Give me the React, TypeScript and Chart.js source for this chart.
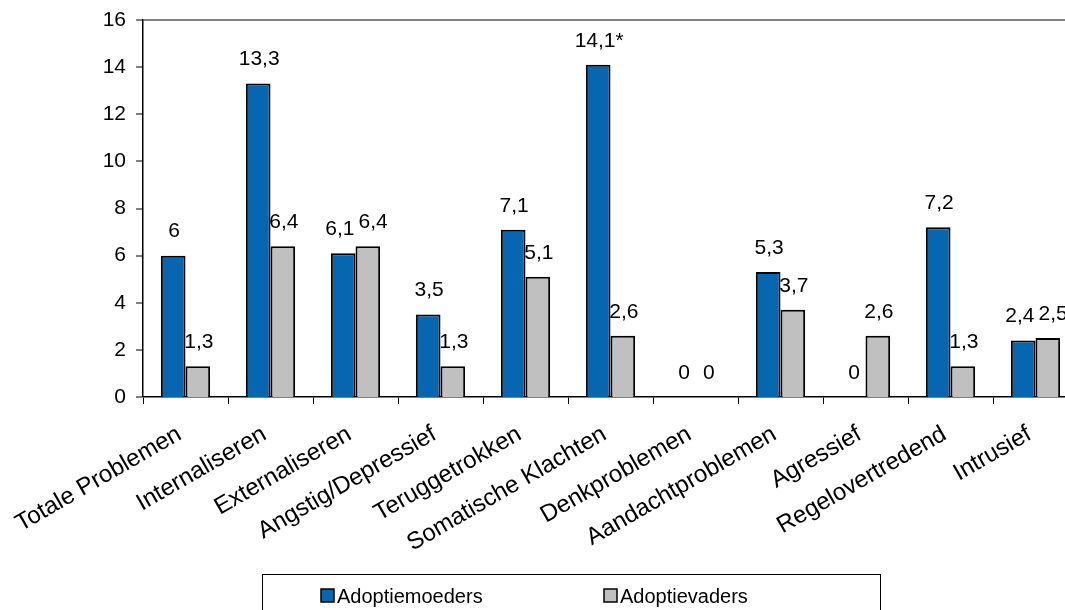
import React, { useEffect, useRef } from "react";
import { Chart, registerables } from "chart.js";

Chart.register(...registerables);

const categories = [
  "Totale Problemen",
  "Internaliseren",
  "Externaliseren",
  "Angstig/Depressief",
  "Teruggetrokken",
  "Somatische Klachten",
  "Denkproblemen",
  "Aandachtproblemen",
  "Agressief",
  "Regelovertredend",
  "Intrusief",
];
const moeders = [6, 13.3, 6.1, 3.5, 7.1, 14.1, 0, 5.3, 0, 7.2, 2.4];
const vaders = [1.3, 6.4, 6.4, 1.3, 5.1, 2.6, 0, 3.7, 2.6, 1.3, 2.5];
const moederSuffix = ["", "", "", "", "", "*", "", "", "", "", ""];
const vaderSuffix = ["", "", "", "", "", "", "", "", "", "", ""];
const seriesNames = ["Adoptiemoeders", "Adoptievaders"];
const yTicks = [0, 2, 4, 6, 8, 10, 12, 14, 16];

const FONT = "Arial, 'Liberation Sans', sans-serif";
const BLUE = "#0766B0";
const GRAY = "#C0C0C0";

const fmt = (v: number) => String(v).replace(".", ",");

const valueLabels = {
  id: "valueLabels",
  afterDatasetsDraw(chart: any) {
    const ctx = chart.ctx;
    ctx.save();
    ctx.fillStyle = "#000";
    ctx.font = `21px ${FONT}`;
    ctx.textAlign = "center";
    ctx.textBaseline = "middle";
    const suffixes = [moederSuffix, vaderSuffix];
    const metaA = chart.getDatasetMeta(0);
    const metaB = chart.getDatasetMeta(1);
    const dsA = chart.data.datasets[0];
    const dsB = chart.data.datasets[1];
    for (let i = 0; i < categories.length; i++) {
      const ta = fmt(dsA.data[i]) + suffixes[0][i];
      const tb = fmt(dsB.data[i]) + suffixes[1][i];
      const ea = metaA.data[i];
      const eb = metaB.data[i];
      let xa = ea.x + 1;
      let xb = eb.x + 1;
      const ya = ea.y - 24;
      const yb = eb.y - 24;
      const wa = ctx.measureText(ta).width;
      const wb = ctx.measureText(tb).width;
      if (Math.abs(ya - yb) < 22) {
        const overlap = xa + wa / 2 + 4 - (xb - wb / 2);
        if (overlap > 0) {
          xa -= overlap / 2;
          xb += overlap / 2;
        }
      }
      ctx.fillText(ta, xa, ya);
      ctx.fillText(tb, xb, yb);
    }
    ctx.restore();
  },
};

const boxLegend = {
  id: "boxLegend",
  afterDraw(chart: any) {
    const ctx = chart.ctx;
    ctx.save();
    ctx.strokeStyle = "#000";
    ctx.lineWidth = 1;
    ctx.strokeRect(262.5, 574.5, 618, 50);
    ctx.font = `20px ${FONT}`;
    ctx.textBaseline = "middle";
    ctx.textAlign = "left";
    const starts = [321, 604];
    chart.data.datasets.forEach((ds: any, i: number) => {
      const x = starts[i];
      const y = 596;
      ctx.fillStyle = ds.backgroundColor;
      ctx.fillRect(x, y - 7, 13, 13);
      ctx.strokeStyle = "#000";
      ctx.lineWidth = 1.5;
      ctx.strokeRect(x, y - 7, 13, 13);
      ctx.fillStyle = "#000";
      ctx.fillText(ds.label, x + 16, y + 1);
    });
    ctx.restore();
  },
};

export default function App() {
  const ref = useRef<HTMLCanvasElement | null>(null);
  useEffect(() => {
    if (!ref.current) return;
    const chart = new Chart(ref.current, {
      type: "bar",
      data: {
        labels: categories,
        datasets: [
          {
            label: seriesNames[0],
            data: moeders,
            backgroundColor: BLUE,
            borderColor: "#000",
            borderWidth: 2,
            categoryPercentage: 0.58,
            barPercentage: 1,
          },
          {
            label: seriesNames[1],
            data: vaders,
            backgroundColor: GRAY,
            borderColor: "#000",
            borderWidth: 2,
            categoryPercentage: 0.58,
            barPercentage: 1,
          },
        ],
      },
      options: {
        responsive: false,
        animation: false,
        devicePixelRatio: 1,
        layout: { padding: { top: 20, right: 7, left: 0, bottom: 0 } },
        plugins: {
          legend: { display: false },
          tooltip: { enabled: false },
        },
        scales: {
          x: {
            offset: true,
            grid: {
              offset: true,
              drawOnChartArea: false,
              drawTicks: true,
              tickLength: 7,
              tickColor: "#000",
              tickWidth: 1,
            },
            border: { display: true, color: "#000", width: 1.5 },
            ticks: {
              color: "#000",
              font: { size: 24, family: FONT },
              maxRotation: 30,
              minRotation: 30,
              autoSkip: false,
              padding: 16,
              labelOffset: -6,
            },
            afterFit(scale: any) {
              scale.height = 213;
              scale.paddingLeft = 0;
              scale.paddingRight = 0;
              scale.paddingTop = 0;
              scale.paddingBottom = 0;
            },
          },
          y: {
            min: 0,
            max: 16,
            afterBuildTicks(scale: any) {
              scale.ticks = yTicks.map((v) => ({ value: v }));
            },
            grid: {
              drawOnChartArea: true,
              color: (c: any) => (c.tick && c.tick.value === 16 ? "#808080" : "rgba(0,0,0,0)"),
              lineWidth: (c: any) => (c.tick && c.tick.value === 16 ? 2 : 0),
              tickColor: "#000",
              tickLength: 7,
              tickWidth: 1,
            },
            border: { display: true, color: "#000", width: 1.5 },
            ticks: {
              color: "#000",
              font: { size: 21, family: FONT },
              padding: 10,
            },
            afterFit(scale: any) {
              scale.width = 143;
              scale.paddingTop = 0;
              scale.paddingBottom = 0;
              scale.paddingLeft = 0;
              scale.paddingRight = 0;
            },
          },
        },
      },
      plugins: [valueLabels, boxLegend],
    });
    return () => chart.destroy();
  }, []);
  return (
    <div
      style={{
        position: "fixed",
        left: 0,
        top: 0,
        width: 1065,
        height: 610,
        overflow: "hidden",
        background: "#fff",
      }}
    >
      <canvas ref={ref} width={1085} height={610} style={{ width: 1085, height: 610, display: "block" }} />
    </div>
  );
}
